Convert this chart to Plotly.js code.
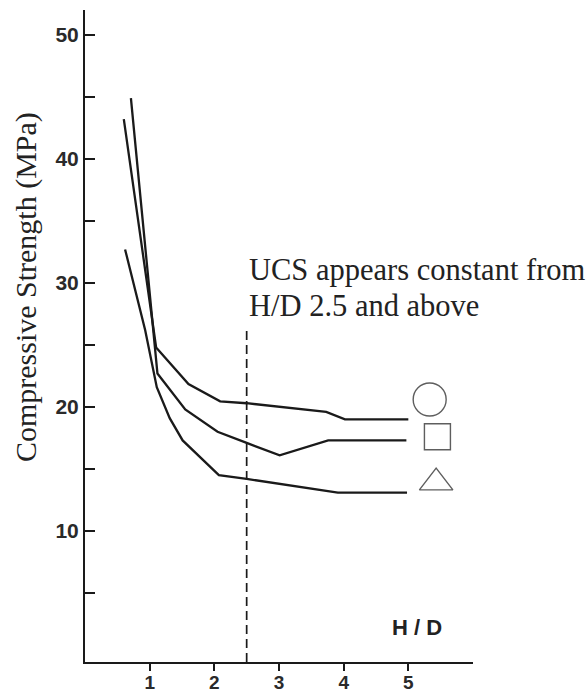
<!DOCTYPE html>
<html>
<head>
<meta charset="utf-8">
<script src="https://cdn.plot.ly/plotly-3.0.1.min.js"></script>
<style>
  html, body { margin: 0; padding: 0; background: #fff; }
  #chart { width: 587px; height: 693px; }
</style>
</head>
<body>
<div id="chart"></div>
<script>
// Compressive strength versus height/diameter ratio for three specimen series
const hdCircle   = [0.60, 1.10, 1.60, 2.09, 2.50, 3.73, 4.02, 5.00];
const ucsCircle  = [43.2, 24.8, 21.85, 20.45, 20.3, 19.6, 19.0, 19.0];

const hdSquare   = [0.71, 1.12, 1.55, 2.05, 2.50, 3.01, 3.76, 4.97];
const ucsSquare  = [44.9, 22.7, 19.8, 18.0, 17.1, 16.1, 17.3, 17.3];

const hdTriangle  = [0.62, 0.93, 1.11, 1.31, 1.51, 2.07, 2.50, 3.91, 4.98];
const ucsTriangle = [32.7, 26.2, 21.6, 19.1, 17.3, 14.5, 14.2, 13.1, 13.1];

// series key symbols placed at the right-hand end of each curve
const keyHD      = [5.33, 5.45, 5.43];
const keyUCS     = [20.6, 17.6, 13.9];
const keySymbols = ['circle-open', 'square-open', 'triangle-up-open'];
const keySizes   = [33, 26, 29];

// H/D ratio from which the strength levels off
const constantFromHD = 2.5;
const dashTopUCS = 26.4;

const xTicks = [1, 2, 3, 4, 5];
const yTicks = [10, 20, 30, 40, 50];
const yMinorTicks = [5, 15, 25, 35, 45];

const xRange = [0, 6];
const yRange = [-0.56, 52];

const ink = '#1a1a1a';
const curveLine = { color: ink, width: 2.3 };

const traces = [
  { x: hdCircle, y: ucsCircle, mode: 'lines', line: curveLine, hoverinfo: 'skip' },
  { x: hdSquare, y: ucsSquare, mode: 'lines', line: curveLine, hoverinfo: 'skip' },
  { x: hdTriangle, y: ucsTriangle, mode: 'lines', line: curveLine, hoverinfo: 'skip' },
  {
    x: keyHD, y: keyUCS, mode: 'markers', hoverinfo: 'skip',
    marker: {
      symbol: keySymbols, size: keySizes, color: ink,
      line: { color: ink, width: 1.4 }
    }
  }
];

const sans = 'Liberation Sans, Arial, sans-serif';
const serif = 'Liberation Serif, Times New Roman, serif';
const yTickFont = { family: sans, size: 21, color: '#2a2a2a', weight: 'bold' };
const xTickFont = { family: sans, size: 19, color: '#2a2a2a', weight: 'bold' };

const layout = {
  width: 587,
  height: 693,
  margin: { l: 85, r: 114, t: 10, b: 31 },
  paper_bgcolor: '#fff',
  plot_bgcolor: '#fff',
  showlegend: false,
  xaxis: {
    range: xRange,
    showline: true, linecolor: ink, linewidth: 2,
    showgrid: false, zeroline: false,
    tickmode: 'array', tickvals: xTicks,
    ticks: 'outside', ticklen: 7, tickwidth: 2, tickcolor: ink,
    ticklabelstandoff: -5,
    tickfont: xTickFont
  },
  yaxis: {
    range: yRange,
    showline: true, linecolor: ink, linewidth: 2,
    showgrid: false, zeroline: false,
    tickmode: 'array', tickvals: yTicks,
    ticks: 'inside', ticklen: 10, tickwidth: 2, tickcolor: ink,
    tickfont: yTickFont,
    minor: {
      tickmode: 'array', tickvals: yMinorTicks,
      ticks: 'inside', ticklen: 10, tickwidth: 2, tickcolor: ink,
      showgrid: false
    }
  },
  shapes: [
    {
      type: 'line', xref: 'x', yref: 'y',
      x0: constantFromHD, x1: constantFromHD,
      y0: yRange[0], y1: dashTopUCS,
      line: { color: ink, width: 1.7, dash: '9px,5px' }
    }
  ],
  annotations: [
    {
      text: 'Compressive Strength (MPa)',
      xref: 'paper', yref: 'paper', x: -0.152, y: 0.575,
      xanchor: 'center', yanchor: 'middle', textangle: -90,
      showarrow: false,
      font: { family: serif, size: 30, color: '#222' }
    },
    {
      text: 'UCS appears constant from',
      xref: 'x', yref: 'y', x: constantFromHD, y: 31.05,
      xanchor: 'left', yanchor: 'middle', showarrow: false,
      font: { family: serif, size: 30.5, color: '#222' }
    },
    {
      text: 'H/D 2.5 and above',
      xref: 'x', yref: 'y', x: constantFromHD, y: 28.15,
      xanchor: 'left', yanchor: 'middle', showarrow: false,
      font: { family: serif, size: 30.5, color: '#222' }
    },
    {
      text: 'H / D',
      xref: 'x', yref: 'y', x: 5.13, y: 2.2,
      xanchor: 'center', yanchor: 'middle', showarrow: false,
      font: { family: sans, size: 22, color: '#222', weight: 'bold' }
    }
  ]
};

Plotly.newPlot('chart', traces, layout, { staticPlot: true, displayModeBar: false });
</script>
</body>
</html>
